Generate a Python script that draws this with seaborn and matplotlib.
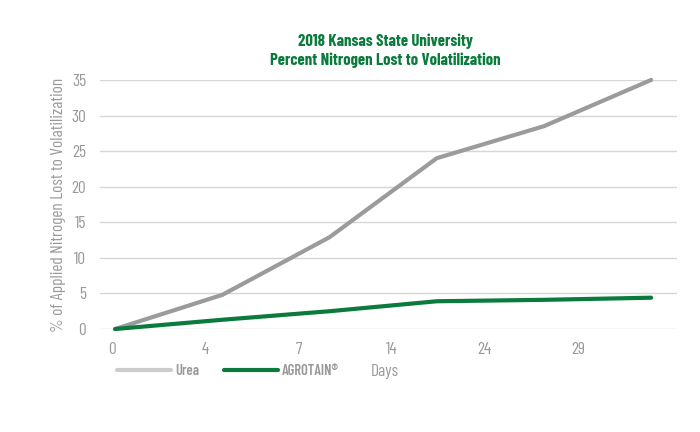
# Import Libraries
import numpy as np
import pandas as pd
import matplotlib
matplotlib.use("Agg")
import matplotlib.pyplot as plt
from matplotlib.lines import Line2D
import seaborn as sns

# Data
days = ["0", "4", "7", "14", "24", "29"]
urea = [0, 4.8, 12.9, 24.0, 28.5, 35.0]
agrotain = [0, 1.3, 2.5, 3.9, 4.1, 4.4]
series_names = ["Urea", "AGROTAIN®"]
colors = {"Urea": "#9b9b9b", "AGROTAIN®": "#0b7a3d"}

df = pd.DataFrame({
    "pos": list(range(len(days))) * 2,
    "value": urea + agrotain,
    "series": [series_names[0]] * len(days) + [series_names[1]] * len(days),
})

sns.set_style("white")
plt.rcParams["font.family"] = ["Barlow Condensed", "Roboto Condensed", "DejaVu Sans"]

fig = plt.figure(figsize=(7, 4.32), dpi=100)
ax = fig.add_axes([0.143, 0.2384, 0.824, 0.5766])

sns.lineplot(data=df, x="pos", y="value", hue="series", palette=colors,
             linewidth=3, legend=False, ax=ax, clip_on=False, zorder=3)

# Axes styling
ax.set_xlim(-0.14, 5.24)
ax.set_ylim(0, 35)
ax.set_yticks(range(0, 36, 5))
ax.yaxis.grid(True, color="#d6d6d6", linewidth=1)
for s in ax.spines.values():
    s.set_visible(False)
ax.tick_params(axis="y", length=0, pad=10, labelsize=12.5, labelcolor="#999999")

# tick labels sit a bit tighter than the points in the original
ax.set_xticks(np.arange(len(days)) * 0.869 - 0.028)
ax.set_xticklabels(days)
ax.tick_params(axis="x", length=0, pad=9, labelsize=12.5, labelcolor="#999999")

ax.set_ylabel("% of Applied Nitrogen Lost to Volatilization",
              fontsize=12.5, color="#999999", labelpad=4)
ax.set_xlabel("")

# Title
fig.text(0.55, 0.882, "2018 Kansas State University\nPercent Nitrogen Lost to Volatilization",
         ha="center", va="center", fontsize=12, fontweight="bold",
         color="#0b7a3d", linespacing=1.25)

# Legend and x label on the same row
handles = [Line2D([], [], color="#cccccc", linewidth=3),
           Line2D([], [], color="#0b7a3d", linewidth=3)]
leg = fig.legend(handles, series_names, loc="center left", bbox_to_anchor=(0.148, 0.141),
                 ncol=2, frameon=False, handlelength=3.7, handletextpad=0.3,
                 columnspacing=1.7, labelcolor="#999999",
                 prop={"size": 10.5, "weight": "semibold"})
fig.text(0.55, 0.141, "Days", ha="center", va="center", fontsize=12.5, color="#999999")

plt.savefig("out.png", dpi=100)
